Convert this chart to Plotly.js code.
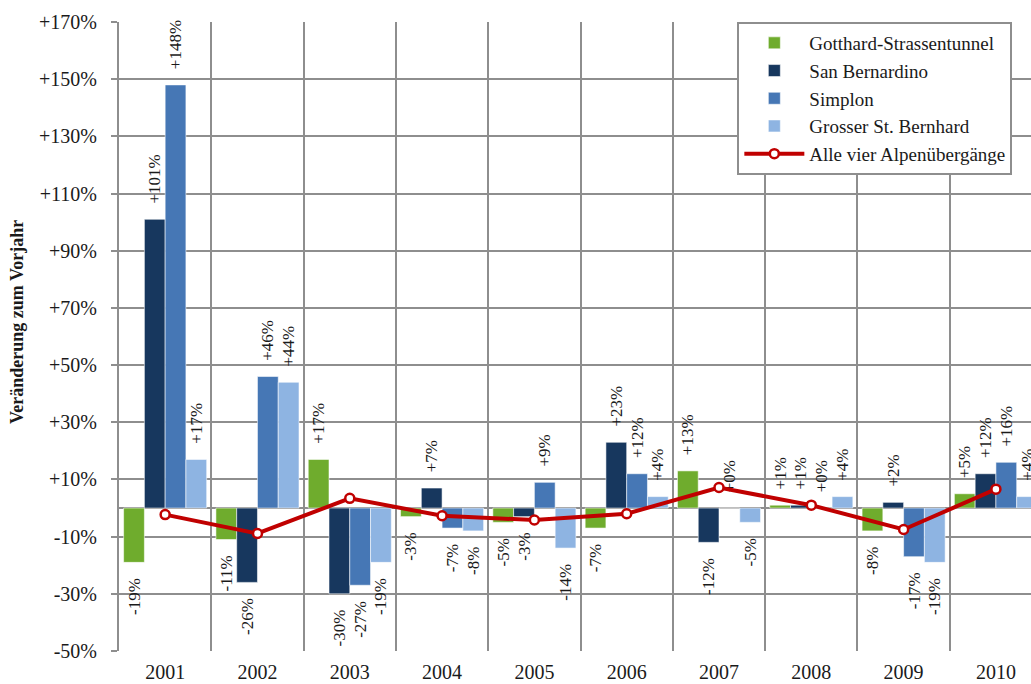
<!DOCTYPE html>
<html>
<head>
<meta charset="utf-8">
<script src="https://cdn.plot.ly/plotly-3.0.1.min.js"></script>
<style>
  html, body { margin: 0; padding: 0; background: #fff; }
  #chart { width: 1031px; height: 684px; }
</style>
</head>
<body>
<div id="chart"></div>
<script>
// Jährliche Veränderung des Verkehrs an den Alpenübergängen (in %)
const years = ['2001', '2002', '2003', '2004', '2005', '2006', '2007', '2008', '2009', '2010'];

const gotthard      = [-19, -11,  17, -3, -5, -7,  13, 1, -8,  5];
const sanBernardino = [101, -26, -30,  7, -3, 23, -12, 1,  2, 12];
const simplon       = [148,  46, -27, -7,  9, 12,   0, 0, -17, 16];
const grosserStB    = [ 17,  44, -19, -8, -14, 4,  -5, 4, -19,  4];
const alleVier      = [-2.3, -8.9, 3.4, -2.7, -4.2, -2.0, 7.2, 1.0, -7.5, 6.6];

const seriesNames = ['Gotthard-Strassentunnel', 'San Bernardino', 'Simplon', 'Grosser St. Bernhard'];
const seriesColors = ['#6FAC2D', '#17375E', '#4677B5', '#8EB4E2'];
const lineName = 'Alle vier Alpenübergänge';

const yTickVals = [-50, -30, -10, 10, 30, 50, 70, 90, 110, 130, 150, 170];
const yTickText = ['-50%', '-30%', '-10%', '+10%', '+30%', '+50%', '+70%', '+90%', '+110%', '+130%', '+150%', '+170%'];

const serif = "'Liberation Serif', 'Times New Roman', serif";
const NB = '\u00a0\u00a0\u00a0';

// value label: signed percentage, padded on the side facing the bar end
function label(v) {
  const s = (v >= 0 ? '+' : '') + v + '%';
  return v >= 0 ? NB + s : s + NB;
}

const barTraces = [gotthard, sanBernardino, simplon, grosserStB].map((vals, i) => ({
  type: 'bar',
  name: seriesNames[i],
  x: years,
  y: vals,
  text: vals.map(label),
  textposition: 'outside',
  textangle: -90,
  constraintext: 'none',
  cliponaxis: false,
  textfont: { family: serif, size: 17, color: '#1a1a1a' },
  marker: { color: seriesColors[i], line: { color: 'rgba(255,255,255,0.55)', width: 1 } },
  hoverinfo: 'skip'
}));

const lineTrace = {
  type: 'scatter',
  mode: 'lines+markers',
  name: lineName,
  x: years,
  y: alleVier,
  cliponaxis: false,
  line: { color: '#C00000', width: 4 },
  marker: { size: 9, color: '#ffffff', line: { color: '#C00000', width: 2.5 } },
  hoverinfo: 'skip'
};

const gridColor = '#8E8E8E';

const layout = {
  width: 1031,
  height: 684,
  margin: { l: 119, r: 0, t: 22, b: 33 },
  paper_bgcolor: '#ffffff',
  plot_bgcolor: '#ffffff',
  barmode: 'group',
  bargap: 0.1,
  bargroupgap: 0,
  showlegend: true,
  font: { family: serif, color: '#1a1a1a' },
  xaxis: {
    type: 'category',
    range: [-0.5, 9.38],
    tickson: 'boundaries',
    showgrid: true,
    gridcolor: gridColor,
    gridwidth: 2,
    showline: false,
    ticks: '',
    ticklabelstandoff: 7,
    tickfont: { family: serif, size: 20, color: '#1a1a1a' },
    automargin: false,
    fixedrange: true
  },
  yaxis: {
    range: [-50, 170],
    tickmode: 'array',
    tickvals: yTickVals,
    ticktext: yTickText,
    showgrid: true,
    gridcolor: gridColor,
    gridwidth: 2,
    zeroline: true,
    zerolinecolor: gridColor,
    zerolinewidth: 2,
    showline: true,
    linecolor: gridColor,
    linewidth: 2,
    ticks: 'outside',
    ticklen: 6,
    tickwidth: 2,
    tickcolor: gridColor,
    ticklabelstandoff: 10,
    tickfont: { family: serif, size: 20, color: '#1a1a1a' },
    automargin: false,
    fixedrange: true
  },
  annotations: [{
    text: '<b>Veränderung zum Vorjahr</b>',
    xref: 'paper',
    yref: 'paper',
    x: 0,
    y: 0.523,
    xshift: -102,
    xanchor: 'center',
    yanchor: 'middle',
    textangle: -90,
    showarrow: false,
    font: { family: serif, size: 18, color: '#1a1a1a' }
  }],
  legend: {
    x: 0.678,
    y: 1.0,
    xanchor: 'left',
    yanchor: 'top',
    bgcolor: '#ffffff',
    bordercolor: gridColor,
    borderwidth: 2,
    font: { family: serif, size: 19, color: '#1a1a1a' },
    traceorder: 'normal',
    itemwidth: 60
  }
};

Plotly.newPlot('chart', [...barTraces, lineTrace], layout, { staticPlot: true });
</script>
</body>
</html>
